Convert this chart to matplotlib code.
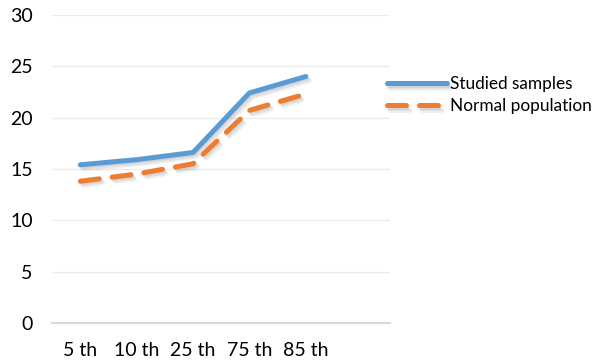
import matplotlib
matplotlib.use("Agg")
import matplotlib.pyplot as plt
import matplotlib.patheffects as pe

plt.rcParams['font.family'] = ['Lato', 'DejaVu Sans']

categories = ["5 th", "10 th", "25 th", "75 th", "85 th"]
studied = [15.4, 15.9, 16.6, 22.4, 24.0]
normal = [13.8, 14.5, 15.5, 20.7, 22.3]

fig = plt.figure(figsize=(6.07, 3.64), dpi=100)
ax = fig.add_axes([0.086, 0.113, 0.557, 0.846])

x = range(len(categories))
# soft drop shadow made of a few faint offset copies
shadow = [pe.SimpleLineShadow(offset=(o, -o - 0.5), alpha=0.06, shadow_color="black")
          for o in (0.5, 1.5, 2.5)] + [pe.Normal()]

ax.plot(x, studied, color="#5b9bd5", lw=3.6, solid_capstyle="round",
        solid_joinstyle="round", label="Studied samples", path_effects=shadow, zorder=3)
ax.plot(x, normal, color="#ed7d31", lw=3.6, dashes=(3.8, 2.6), dash_capstyle="round",
        label="Normal population", path_effects=shadow, zorder=3)

ax.set_xlim(-0.5, 5.5)
ax.set_ylim(0, 30)
ax.set_yticks(range(0, 31, 5))
ax.set_xticks(list(x))
ax.set_xticklabels(categories)
ax.grid(axis="y", color="#ececec", lw=1)
ax.set_axisbelow(True)
for s in ["top", "right", "left"]:
    ax.spines[s].set_visible(False)
ax.spines["bottom"].set_color("#d9d9d9")
ax.spines["bottom"].set_linewidth(1.5)
ax.tick_params(axis="both", length=0, labelsize=14, colors="#000000")
ax.tick_params(axis="y", pad=14)
ax.tick_params(axis="x", pad=14)

leg = fig.legend(loc="upper left", bbox_to_anchor=(0.637, 0.79), frameon=False,
                 borderpad=0, borderaxespad=0, fontsize=12.4, handlelength=3.5,
                 handletextpad=0.2, labelspacing=0.35)

fig.savefig("out.png", dpi=100)
